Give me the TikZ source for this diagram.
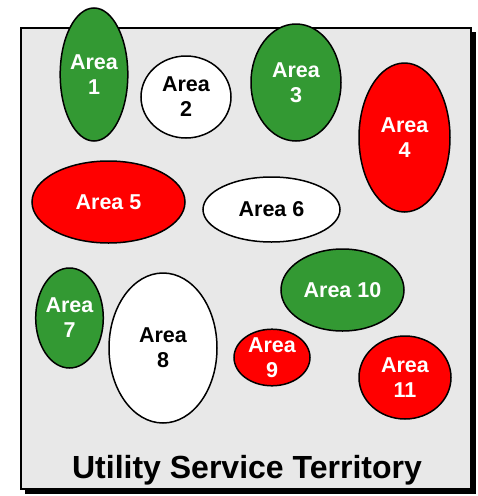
\documentclass[tikz,border=0pt]{standalone}
\usepackage{fontspec}
\setmainfont{Liberation Sans}
\usetikzlibrary{shapes.geometric}
\definecolor{areagreen}{RGB}{51,153,51}
\definecolor{areared}{RGB}{255,0,0}
\definecolor{territory}{RGB}{232,232,232}
\tikzset{
  area/.style={ellipse, draw=black, line width=1.5pt, inner sep=0pt,
    align=center, font=\fontsize{21.5}{25}\selectfont\bfseries},
  greenarea/.style={area, fill=areagreen, text=white},
  redarea/.style={area, fill=areared, text=white},
  whitearea/.style={area, fill=white, text=black},
}
\begin{document}
\begin{tikzpicture}[x=1pt,y=-1pt]
\useasboundingbox (0,0) rectangle (478,496);
\fill[black] (25,32) rectangle (476,494);
\draw[fill=territory, line width=1.5pt] (21,28) rectangle (471,489);
\node[greenarea, minimum width=60pt, minimum height=133pt] (a1) at (94,74.5) {Area\\1};
\node[whitearea, minimum width=90pt, minimum height=82pt] (a2) at (186,97) {Area\\2};
\node[greenarea, minimum width=90pt, minimum height=117pt] (a3) at (296,82.5) {Area\\3};
\node[redarea, minimum width=91pt, minimum height=149pt] (a4) at (404.5,137.5) {Area\\4};
\node[redarea, minimum width=153pt, minimum height=82pt] (a5) at (108.5,202) {Area 5};
\node[whitearea, minimum width=137pt, minimum height=65pt] (a6) at (271.5,209.5) {Area 6};
\node[greenarea, minimum width=59pt, minimum height=100pt] (a7) at (69.5,318) {Area\\7};
\node[whitearea, minimum width=108pt, minimum height=150pt] (a8) at (163,348) {Area\\8};
\node[redarea, minimum width=76pt, minimum height=49pt] (a9) at (272,357.5) {Area\\9};
\node[greenarea, minimum width=123pt, minimum height=82pt] (a10) at (342.5,290) {Area 10};
\node[redarea, minimum width=92pt, minimum height=83pt] (a11) at (405,377.5) {Area\\11};
\node[font=\fontsize{32}{38}\selectfont\bfseries, anchor=base] (title) at (247,478) {Utility Service Territory};
\end{tikzpicture}
\end{document}
